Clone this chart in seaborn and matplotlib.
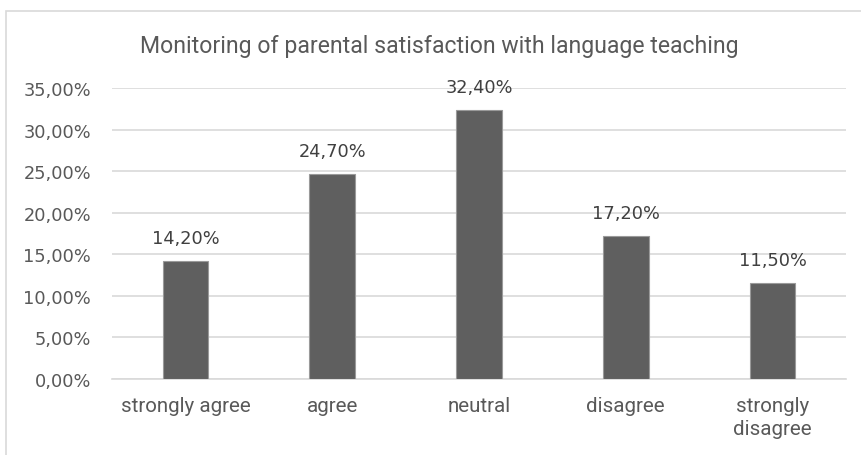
import matplotlib
matplotlib.use("Agg")
import matplotlib.pyplot as plt
import seaborn as sns
import pandas as pd
from matplotlib.patches import Rectangle
from matplotlib.ticker import FuncFormatter, MultipleLocator

categories = ["strongly agree", "agree", "neutral", "disagree", "strongly\ndisagree"]
values = [14.2, 24.7, 32.4, 17.2, 11.5]
title = "Monitoring of parental satisfaction with language teaching"

df = pd.DataFrame({"category": categories, "value": values})

sns.set_theme(style="white")
plt.rcParams["font.family"] = ["DejaVu Sans"]

W, H = 861, 456
fig = plt.figure(figsize=(W / 100, H / 100), dpi=100)
ax = fig.add_axes([112 / W, 1 - 380 / H, (846 - 112) / W, (380 - 89) / H])

text_col = "#595959"
sns.barplot(data=df, x="category", y="value", ax=ax, color="#5f5f5f",
            width=0.31, saturation=1, edgecolor="#9a9a9a", linewidth=0.8, zorder=3)

ax.set_ylim(0, 35)
ax.set_xlim(-0.5, len(categories) - 0.5)
ax.yaxis.set_major_locator(MultipleLocator(5))
ax.yaxis.set_major_formatter(FuncFormatter(lambda v, p: f"{v:.2f}".replace(".", ",") + "%"))
ax.grid(axis="y", color="#d9d9d9", linewidth=1.2, zorder=0)
ax.set_axisbelow(True)
for s in ["top", "right", "left"]:
    ax.spines[s].set_visible(False)
ax.spines["bottom"].set_color("#d9d9d9")
ax.spines["bottom"].set_linewidth(1.2)
ax.set_xlabel("")
ax.set_ylabel("")
ax.tick_params(axis="y", length=0, pad=15, labelsize=12.8, labelcolor=text_col)
ax.tick_params(axis="x", length=0, pad=12, labelcolor=text_col)
for lbl in ax.get_xticklabels():
    lbl.set_fontfamily(["Roboto", "DejaVu Sans"])
    lbl.set_fontsize(14.8)
    lbl.set_linespacing(1.3)
    lbl.set_verticalalignment("top")

for i, v in enumerate(values):
    ax.annotate(f"{v:.2f}".replace(".", ",") + "%", (i, v), xytext=(0, 10),
                textcoords="offset points", ha="center", va="bottom",
                fontsize=12.8, color="#404040")

fig.text(439 / W, 1 - 47 / H, title, ha="center", va="center", fontsize=16.6,
         color=text_col, family=["Roboto", "DejaVu Sans"])

fig.patches.append(Rectangle((5.5 / W, -0.1), 2, 1.1 - 12 / H, transform=fig.transFigure,
                             fill=False, edgecolor="#d9d9d9", linewidth=1.2))

fig.savefig("out.png", dpi=100)
